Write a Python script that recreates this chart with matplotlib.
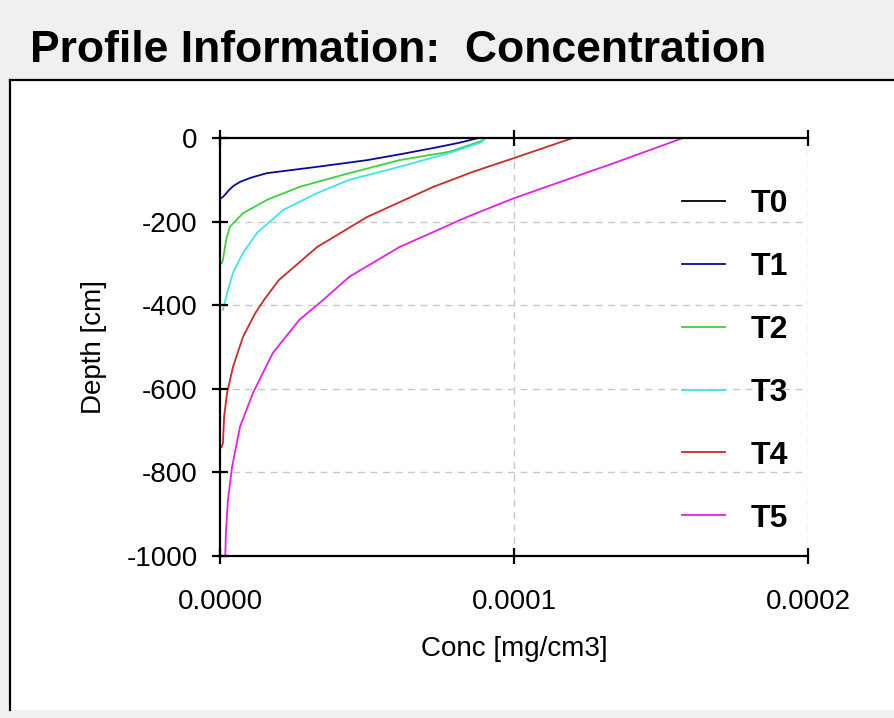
import numpy as np
import matplotlib
matplotlib.use('Agg')
import matplotlib.pyplot as plt
from matplotlib.patches import Rectangle
from matplotlib.lines import Line2D

plt.rcParams['font.family'] = ['Liberation Sans', 'DejaVu Sans']

# profile data (depth in cm, concentration in mg/cm3)
labels = ['T0', 'T1', 'T2', 'T3', 'T4', 'T5']
colors = ['#000000', '#0a0aa0', '#3cd23c', '#3ce6e6', '#d22828', '#e61ee6']

depth_t0 = [0, -1000]
conc_t0 = [0.0, 0.0]

depth_t1 = [0, -12, -24, -38, -53, -69, -84, -95, -105, -115, -125, -135, -141, -145]
conc_t1 = [8.8e-5, 8.1e-5, 7.25e-5, 6.2e-5, 5.0e-5, 3.3e-5, 1.6e-5, 1.05e-5, 6.8e-6,
           4.5e-6, 3.0e-6, 1.8e-6, 1.0e-6, 0.0]

depth_t2 = [0, -7, -33, -53, -84, -117, -148, -180, -212, -240, -260, -292, -300]
conc_t2 = [9.05e-5, 8.9e-5, 7.8e-5, 6.1e-5, 4.4e-5, 2.7e-5, 1.6e-5, 7.8e-6, 3.4e-6,
           2.2e-6, 1.7e-6, 1.0e-6, 0.5e-6]

depth_t3 = [0, -10, -36, -69, -100, -132, -172, -227, -275, -323, -371, -395, -411]
conc_t3 = [9.0e-5, 8.9e-5, 7.8e-5, 6.1e-5, 4.4e-5, 3.3e-5, 2.15e-5, 1.26e-5, 7.8e-6,
           4.4e-6, 2.4e-6, 1.6e-6, 1.0e-6]

depth_t4 = [0, -48, -81, -117, -189, -261, -340, -387, -419, -476, -548, -610, -667,
            -730, -740]
conc_t4 = [1.2e-4, 1.0e-4, 8.6e-5, 7.25e-5, 5.0e-5, 3.3e-5, 2.0e-5, 1.5e-5, 1.2e-5,
           7.8e-6, 4.4e-6, 2.4e-6, 1.4e-6, 1.0e-6, 0.5e-6]

depth_t5 = [0, -60, -144, -189, -261, -332, -388, -435, -514, -610, -691, -787, -866,
            -945, -1000]
conc_t5 = [1.575e-4, 1.34e-4, 1.0e-4, 8.4e-5, 6.1e-5, 4.4e-5, 3.5e-5, 2.7e-5, 1.8e-5,
           1.12e-5, 6.8e-6, 4.1e-6, 2.7e-6, 2.0e-6, 1.8e-6]

depths = [depth_t0, depth_t1, depth_t2, depth_t3, depth_t4, depth_t5]
concs = [conc_t0, conc_t1, conc_t2, conc_t3, conc_t4, conc_t5]

yticks = [0, -200, -400, -600, -800, -1000]
xticks = [0.0, 0.0001, 0.0002]

W, H = 894, 718
fig = plt.figure(figsize=(W / 100., H / 100.), dpi=100)
fig.patch.set_facecolor('#f0f0f0')

# white panel, black border on left and top only
panel = Rectangle((10. / W, 8. / H), 1.2, 1 - 88. / H, transform=fig.transFigure,
                  facecolor='white', edgecolor='none', zorder=-10)
fig.patches.append(panel)
fig.lines.append(Line2D([10. / W, 10. / W], [8. / H, 1 - 80. / H], transform=fig.transFigure,
                        color='black', lw=1.6, zorder=-9))
fig.lines.append(Line2D([10. / W, 1.0], [1 - 80. / H, 1 - 80. / H], transform=fig.transFigure,
                        color='black', lw=1.6, zorder=-9))

fig.text(30. / W, 1 - 51. / H, 'Profile Information:  Concentration',
         fontsize=32, fontweight='bold', va='center', ha='left')

ax = fig.add_axes([220. / W, 1 - 556. / H, 588. / W, 418. / H])
ax.set_facecolor('white')

for d, c, lab, col in zip(depths, concs, labels, colors):
    ax.plot(c, d, color=col, lw=1.3, label=lab, zorder=1)

ax.set_xlim(0, 0.0002)
ax.set_ylim(-1000, 0)
ax.set_xticks(xticks)
ax.set_xticklabels(['%.4f' % v for v in xticks])
ax.set_yticks(yticks)
ax.set_yticklabels(['%d' % v for v in yticks])

for v in yticks[1:-1]:
    ax.axhline(v, color='#c8c8c8', lw=1, ls=(0, (5, 4)), zorder=0)
for v in xticks[1:]:
    ax.axvline(v, color='#c8c8c8', lw=1, ls=(0, (5, 4)), zorder=0)

ax.spines['right'].set_visible(False)
for s in ['left', 'bottom', 'top']:
    ax.spines[s].set_linewidth(1.6)
    ax.spines[s].set_zorder(3)

ax.tick_params(axis='both', direction='inout', length=12, width=1.6, labelsize=20)
ax.tick_params(axis='x', top=True, pad=18)
ax.tick_params(axis='y', pad=10)

ax.set_xlabel('Conc [mg/cm3]', fontsize=20, labelpad=15)
ax.set_ylabel('Depth [cm]', fontsize=20, labelpad=14)

leg = ax.legend(loc='upper left', bbox_to_anchor=(462. / 588, 1 - 51. / 418),
                frameon=False, handlelength=1.35, handletextpad=0.8,
                labelspacing=1.03, borderpad=0, borderaxespad=0,
                prop={'weight': 'bold', 'size': 23})

fig.savefig('out.png', dpi=100, facecolor=fig.get_facecolor())
